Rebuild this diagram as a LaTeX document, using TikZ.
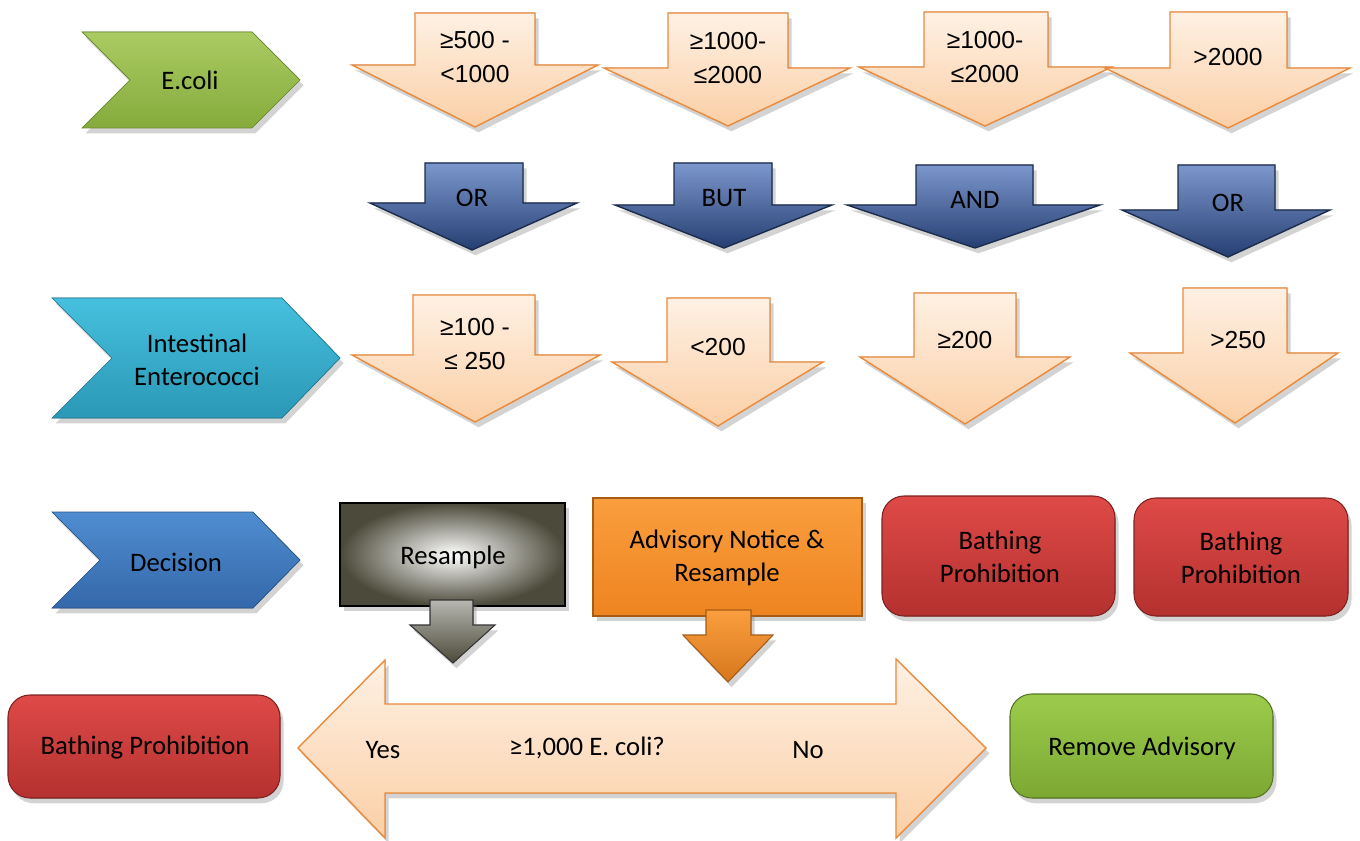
\documentclass[tikz,border=0pt]{standalone}
\usepackage{fontspec}
\setmainfont{Carlito}
\newfontfamily\numfont{Liberation Sans}
\usetikzlibrary{shadows}

\definecolor{peachtop}{HTML}{FEF1E4}
\definecolor{peachbot}{HTML}{FBCFA6}
\definecolor{peachline}{HTML}{E98A3C}
\definecolor{navytop}{HTML}{7C97CC}
\definecolor{navybot}{HTML}{263F73}
\definecolor{navyline}{HTML}{1B2C4C}
\definecolor{ecolitop}{HTML}{AACB62}
\definecolor{ecolibot}{HTML}{86AB3C}
\definecolor{entertop}{HTML}{45C0DE}
\definecolor{enterbot}{HTML}{2A98B6}
\definecolor{decitop}{HTML}{4F8DD0}
\definecolor{decibot}{HTML}{3468AA}
\definecolor{resdark}{HTML}{4C4A3A}
\definecolor{advtop}{HTML}{FA9E3E}
\definecolor{advbot}{HTML}{EE8420}
\definecolor{prohtop}{HTML}{DE4A47}
\definecolor{prohbot}{HTML}{B4312F}
\definecolor{remtop}{HTML}{9CCB4C}
\definecolor{rembot}{HTML}{7CA832}

\begin{document}
\begin{tikzpicture}[x=0.02cm, y=-0.02cm,
    shade/.style={drop shadow={shadow xshift=2pt, shadow yshift=-3pt, opacity=.35}},
    peach/.style={shade, draw=peachline, line width=0.8pt, top color=peachtop, bottom color=peachbot},
    navy/.style={shade, draw=navyline, line width=0.8pt, top color=navytop, bottom color=navybot},
    label/.style={font=\fontsize{15.2}{19}\selectfont, align=center},
    numlabel/.style={font=\numfont\fontsize{14}{19}\selectfont, align=center},
    box/.style={shade, line width=0.6pt}]

    \useasboundingbox (0,0) rectangle (1360,841);

    % left hand chevrons
    \filldraw[shade, draw=ecolibot!80!black, top color=ecolitop, bottom color=ecolibot] (82,32) -- (252,32) -- (300,80) -- (252,128) -- (82,128) -- (130,80) -- cycle;
    \filldraw[shade, draw=enterbot!80!black, top color=entertop, bottom color=enterbot] (52,298) -- (282,298) -- (340,358) -- (282,418) -- (52,418) -- (112,358) -- cycle;
    \filldraw[shade, draw=decibot!80!black, top color=decitop, bottom color=decibot] (52,512) -- (253,512) -- (300,560) -- (253,608) -- (52,608) -- (100,560) -- cycle;
    \node[label] (ecoli) at (190,80) {E.coli};
    \node[label] (enter) at (197,360) {Intestinal\\Enterococci};
    \node[label] (decision) at (176,562) {Decision};

    % E.coli arrows
    \filldraw[peach] (415,13) -- (535,13) -- (535,65) -- (598,65) -- (475,127) -- (352,65) -- (415,65) -- cycle;
    \filldraw[peach] (668,13) -- (788,13) -- (788,68) -- (850,68) -- (728,126) -- (604,68) -- (668,68) -- cycle;
    \filldraw[peach] (924,12) -- (1048,12) -- (1048,67) -- (1112,67) -- (985,126) -- (859,67) -- (924,67) -- cycle;
    \filldraw[peach] (1170,12) -- (1287,12) -- (1287,68) -- (1350,68) -- (1228,128) -- (1105,68) -- (1170,68) -- cycle;
    \node[numlabel] (e1) at (475,57) {≥500 -\\<1000};
    \node[numlabel] (e2) at (728,58) {≥1000-\\≤2000};
    \node[numlabel] (e3) at (985,57) {≥1000-\\≤2000};
    \node[numlabel] (e4) at (1228,57) {>2000};

    % connecting words
    \filldraw[navy] (425,163) -- (523,163) -- (523,203) -- (577,203) -- (472,250) -- (370,203) -- (425,203) -- cycle;
    \filldraw[navy] (674,163) -- (772,163) -- (772,205) -- (832,205) -- (724,248) -- (615,205) -- (674,205) -- cycle;
    \filldraw[navy] (916,165) -- (1033,165) -- (1033,205) -- (1100,205) -- (975,248) -- (847,205) -- (916,205) -- cycle;
    \filldraw[navy] (1178,165) -- (1275,165) -- (1275,210) -- (1330,210) -- (1228,257) -- (1122,210) -- (1178,210) -- cycle;
    \node[label] (w1) at (472,198) {OR};
    \node[label] (w2) at (724,198) {BUT};
    \node[label] (w3) at (975,200) {AND};
    \node[label] (w4) at (1228,203) {OR};

    % enterococci arrows
    \filldraw[peach] (413,295) -- (535,295) -- (535,355) -- (600,355) -- (475,422) -- (352,355) -- (413,355) -- cycle;
    \filldraw[peach] (667,298) -- (770,298) -- (770,362) -- (823,362) -- (718,426) -- (612,362) -- (667,362) -- cycle;
    \filldraw[peach] (914,293) -- (1016,293) -- (1016,357) -- (1070,357) -- (965,424) -- (860,357) -- (914,357) -- cycle;
    \filldraw[peach] (1183,288) -- (1287,288) -- (1287,353) -- (1338,353) -- (1235,423) -- (1130,353) -- (1183,353) -- cycle;
    \node[numlabel] (i1) at (475,344) {≥100 -\\≤ 250};
    \node[numlabel] (i2) at (718,347) {<200};
    \node[numlabel] (i3) at (965,340) {≥200};
    \node[numlabel] (i4) at (1238,340) {>250};

    % decisions
    \filldraw[box, draw=black, line width=1.6pt, shading=radial, inner color=white, outer color=resdark] (340,503) rectangle (565,606);
    \filldraw[box, draw=black!80, top color=resdark!40, bottom color=resdark] (430,600) -- (473,600) -- (473,625) -- (495,625) -- (453,663) -- (410,625) -- (430,625) -- cycle;
    \filldraw[box, draw=advbot!70!black, top color=advtop, bottom color=advbot] (593,498) rectangle (862,616);
    \filldraw[box, draw=advbot!70!black, top color=advtop, bottom color=advbot!90!black] (706,610) -- (751,610) -- (751,635) -- (773,635) -- (728,682) -- (683,635) -- (706,635) -- cycle;
    \filldraw[box, draw=prohbot!70!black, rounded corners=0.44cm, top color=prohtop, bottom color=prohbot] (882,496) rectangle (1115,616);
    \filldraw[box, draw=prohbot!70!black, rounded corners=0.44cm, top color=prohtop, bottom color=prohbot] (1134,498) rectangle (1348,616);
    \node[label] (resample) at (453,557) {Resample};
    \node[label] (advisory) at (727,558) {Advisory Notice \&\\Resample};
    \node[label] (prohib1) at (1000,557) {Bathing\\Prohibition};
    \node[label] (prohib2) at (1241,558) {Bathing\\Prohibition};

    % resample outcome
    \filldraw[box, draw=prohbot!70!black, rounded corners=0.44cm, top color=prohtop, bottom color=prohbot] (8,695) rectangle (280,798);
    \filldraw[peach] (298,748) -- (385,660) -- (385,704) -- (896,704) -- (896,659) -- (986,748) -- (896,838) -- (896,793) -- (385,793) -- (385,838) -- cycle;
    \filldraw[box, draw=rembot!70!black, rounded corners=0.44cm, top color=remtop, bottom color=rembot] (1010,694) rectangle (1273,798);
    \node[label] (prohib3) at (145,748) {Bathing Prohibition};
    \node[label] (yes) at (383,750) {Yes};
    \node[label] (question) at (587,748) {≥1,000 E. coli?};
    \node[label] (no) at (808,750) {No};
    \node[label] (remove) at (1142,748) {Remove Advisory};
\end{tikzpicture}
\end{document}
